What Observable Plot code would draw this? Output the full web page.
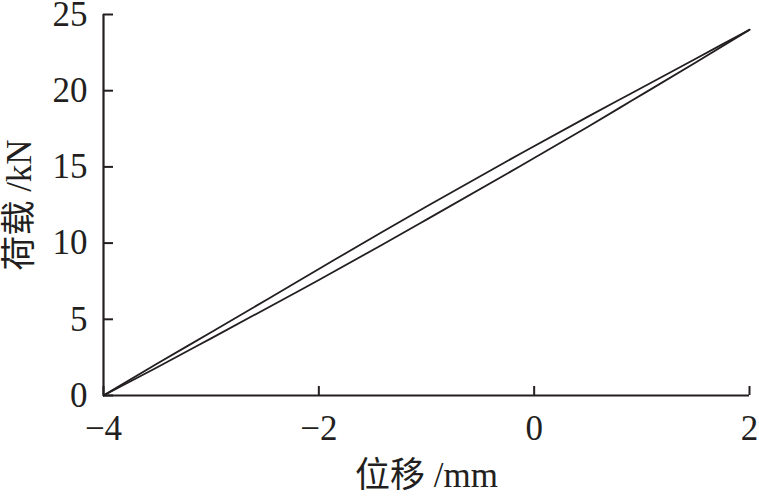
<!DOCTYPE html>
<html>
<head>
<meta charset="utf-8">
<script src="https://cdn.jsdelivr.net/npm/d3@7"></script>
<script src="https://cdn.jsdelivr.net/npm/@observablehq/plot@0.6"></script>
<style>
  html, body { margin: 0; padding: 0; background: #fff; }
  #chart svg { display: block; }
</style>
</head>
<body>
<div id="chart"></div>
<script>
// Displacement samples (mm) shared by both branches
const dispX = [-4, -3.5, -3, -2.26, -2, -1.42, -1, -0.12, 0.5, 0.9, 1.5, 2];
// Upper branch of the load–displacement loop (kN)
const upperY = [0, 2.1, 4.15, 7.22, 8.3, 10.70, 12.4, 15.90, 18.3, 19.82, 22.1, 24];
// Lower branch (kN)
const lowerY = [0, 1.85, 3.75, 6.58, 7.58, 9.86, 11.54, 15.09, 17.64, 19.32, 21.85, 24];

const xTicks = [-4, -2, 0, 2];
const yTicks = [0, 5, 10, 15, 20, 25];
const xLabel = "位移 /mm";
const yLabel = "荷载 /kN";

const upper = dispX.map((x, i) => ({x, y: upperY[i]}));
const lower = dispX.map((x, i) => ({x, y: lowerY[i]}));

const chart = Plot.plot({
  width: 759,
  height: 496,
  marginLeft: 103,
  marginRight: 10,
  marginTop: 14,
  marginBottom: 101,
  style: {fontFamily: "'Liberation Serif', 'Noto Sans CJK SC', serif", fontSize: "35px", color: "#231f20", background: "#fff"},
  x: {domain: [-4, 2]},
  y: {domain: [0, 25]},
  marks: [
    Plot.axisX({ticks: xTicks, tickFormat: "d", tickSize: -9, tickPadding: 29, strokeWidth: 2, label: xLabel, labelAnchor: "center", labelArrow: "none", labelOffset: 91, fontSize: 35}),
    Plot.axisY({ticks: yTicks, tickFormat: "d", tickSize: -10, tickPadding: 26, strokeWidth: 2, label: yLabel, labelAnchor: "center", labelArrow: "none", labelOffset: 97, fontSize: 35}),
    Plot.ruleX([-4], {stroke: "#231f20", strokeWidth: 2.2}),
    Plot.ruleY([0], {stroke: "#231f20", strokeWidth: 2.2}),
    Plot.line(upper, {x: "x", y: "y", stroke: "#231f20", strokeWidth: 1.8, curve: "monotone-x"}),
    Plot.line(lower, {x: "x", y: "y", stroke: "#231f20", strokeWidth: 1.8, curve: "monotone-x"})
  ]
});
document.getElementById("chart").appendChild(chart);
</script>
</body>
</html>
